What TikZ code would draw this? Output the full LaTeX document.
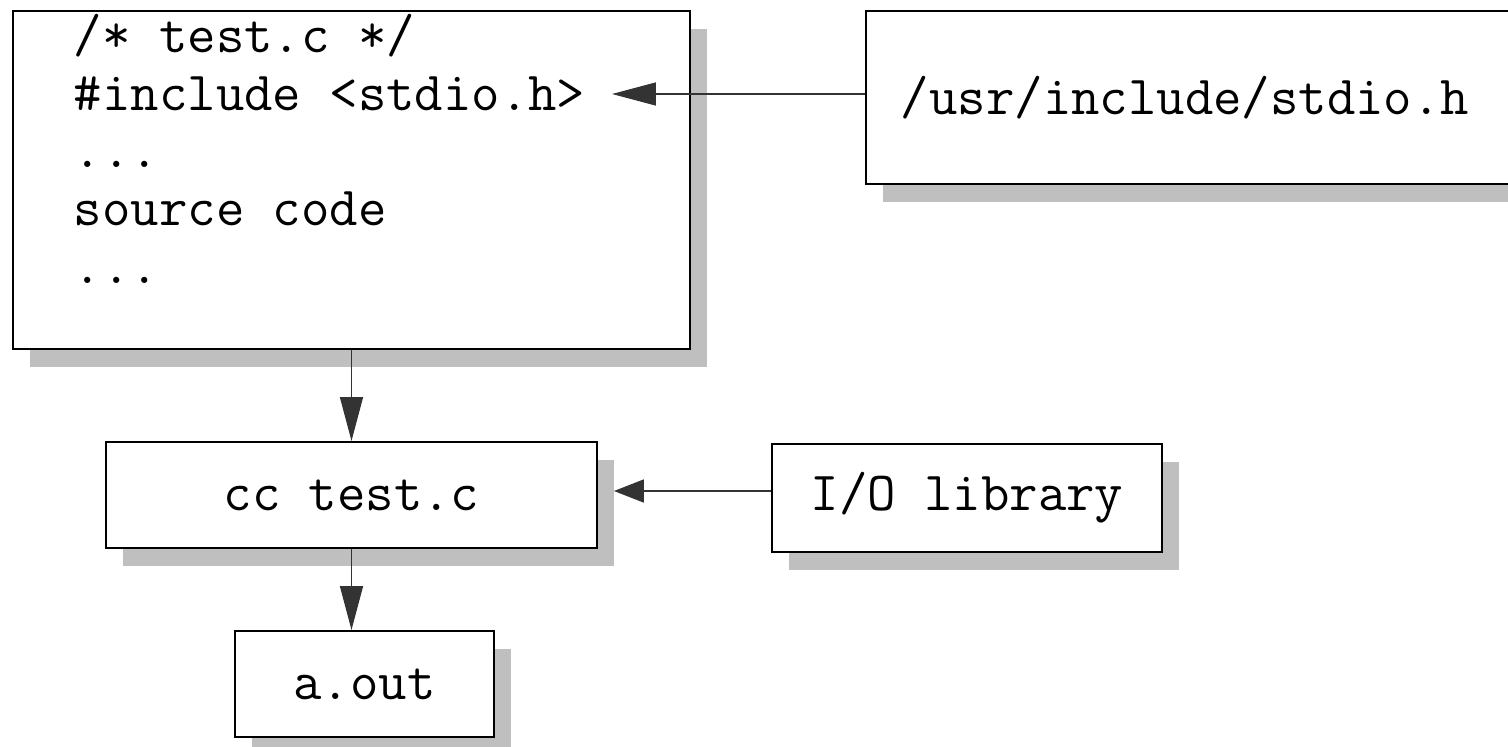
\documentclass[tikz,border=0pt]{standalone}
\usepackage{fontspec}
\usepackage{tikz}
\usetikzlibrary{arrows.meta, shadows}

\begin{document}
\begin{tikzpicture}[
            x = 0.02cm, y = -0.02cm, % one unit per pixel, y downwards
            > = {Triangle[length=25pt, width=13pt]}, % arrow head style
            line width = 1.1pt % line style
        ]

        \tikzstyle{box}=[
            draw = black,
            fill = white,
            rectangle,
            inner sep = 0pt,
            font = \ttfamily\fontsize{31.4}{36}\selectfont,
            drop shadow = {shadow xshift=0.34cm, shadow yshift=-0.36cm,
                           fill=black!25, opacity=1}
        ]
        \tikzstyle{code}=[
            inner sep = 0pt,
            font = \ttfamily\fontsize{31.4}{36}\selectfont
        ]
        \tikzstyle{link}=[
            ->, draw = black!80, fill = black!80
        ]

        \useasboundingbox (0,0) rectangle (1508,747);

        \node[box, anchor=north west, minimum width=13.54cm, minimum height=6.76cm] (src) at (12,10) {};
        \node[code, anchor=base west] (l1) at (73,52) {/* test.c */};
        \node[code, anchor=base west] (l2) at (73,110) {\#include <stdio.h>};
        \node[code, anchor=base west] (l3) at (73,167) {...};
        \node[code, anchor=base west] (l4) at (73,225) {source code};
        \node[code, anchor=base west] (l5) at (73,283) {...};
        \coordinate (inc) at (612,94);

        \node[box, anchor=north west, text width=11.88cm, inner xsep=0.7cm, align=left,
              minimum height=3.46cm] (hdr) at (865,10) {/usr/include/stdio.h};

        \node[box, minimum width=9.82cm, minimum height=2.12cm] (cc) at (351.5,495) {cc test.c};
        \node[box, minimum width=7.8cm, minimum height=2.16cm] (io) at (967,498) {I/O library};
        \node[box, minimum width=5.18cm, minimum height=2.12cm] (aout) at (364.5,684) {a.out};

        \draw[link] (hdr.west |- inc) -- (inc);
        \draw[link] (src.south -| cc.north) -- (cc.north);
        \draw[link, >={Triangle[length=17pt, width=13pt]}, shorten >=0.32cm]
            ([yshift=0.14cm]io.west) -- ([yshift=0.14cm]io.west -| cc.east);
        \draw[link] (cc.south) -- (cc.south |- aout.north);

  \end{tikzpicture}
\end{document}
